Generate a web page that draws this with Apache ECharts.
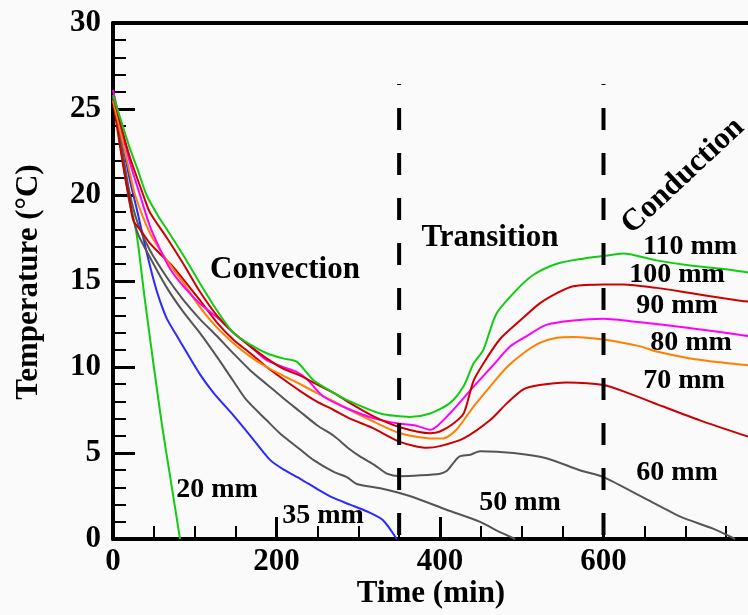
<!DOCTYPE html>
<html>
<head>
<meta charset="utf-8">
<script src="https://cdn.jsdelivr.net/npm/echarts@6/dist/echarts.min.js"></script>
<style>
  html, body { margin: 0; padding: 0; background: #fafafa; }
  #chart { width: 748px; height: 615px; }
</style>
</head>
<body>
<div id="chart"></div>
<script>
// Temperature histories (time in min, temperature in °C) at each depth
const d20 = [[0,25.8],[10,22.8],[20,19.8],[29,17.7],[39,13.9],[50,10.0],[60,6.6],[70,3.6],[82,0]];
const d35 = [[0,25.8],[10,23.5],[20,21.0],[30,19.0],[40,16.9],[50,15.0],[57,13.9],[66,12.8],[82,11.5],[106,9.6],[123,8.5],[147,7.2],[168,6.0],[192,4.6],[210,4.0],[229,3.5],[250,2.9],[269,2.4],[290,2.0],[311,1.6],[330,1.1],[347,0]];
const d50 = [[0,25.8],[10,22.6],[20,19.6],[30,17.8],[45,16.4],[66,14.6],[86,13.2],[106,12.0],[127,10.6],[147,9.2],[163,8.1],[188,6.9],[204,6.15],[229,5.2],[245,4.6],[270,3.9],[286,3.6],[298,3.2],[327,2.95],[363,2.5],[408,1.7],[449,1.0],[469,0.5],[492,0]];
const d60 = [[0,25.8],[10,23.0],[20,20.2],[30,18.4],[45,16.8],[66,15.2],[86,13.9],[106,12.8],[127,11.8],[147,10.8],[168,9.8],[188,9.0],[208,8.2],[229,7.4],[250,6.6],[270,6.0],[290,5.2],[302,4.8],[320,4.3],[335,3.8],[351,3.65],[376,3.7],[400,3.8],[408,3.95],[416,4.4],[424,4.8],[437,4.9],[449,5.1],[490,5.0],[530,4.7],[571,4.0],[600,3.6],[653,2.3],[694,1.3],[734,0.6],[761,0]];
const d70 = [[0,25.5],[8,23.0],[15,21.0],[20,19.8],[25,18.5],[33,18.0],[45,17.2],[57,16.6],[70,16.0],[86,15.1],[106,13.9],[127,12.6],[147,11.6],[168,10.8],[188,10.0],[208,9.3],[229,8.6],[249,8.0],[270,7.5],[290,7.0],[318,6.45],[351,5.65],[384,5.3],[400,5.4],[429,5.85],[461,6.9],[482,7.9],[502,8.7],[522,8.95],[555,9.1],[600,8.95],[632,8.45],[673,7.7],[718,6.9],[777,5.95],[800,5.6]];
const d80 = [[0,25.5],[10,23.5],[20,21.4],[27,20.0],[45,17.8],[66,16.2],[86,14.9],[106,13.5],[127,12.3],[147,11.4],[168,10.6],[188,10.0],[208,9.5],[229,9.0],[249,8.5],[270,8.0],[290,7.5],[320,6.8],[351,6.15],[388,5.85],[404,5.85],[420,6.35],[441,7.7],[461,8.85],[482,10.0],[502,10.8],[522,11.4],[543,11.7],[563,11.75],[600,11.6],[645,11.2],[665,10.9],[706,10.5],[747,10.25],[777,10.1],[800,10.0]];
const d90 = [[0,26.1],[10,24.0],[20,22.0],[33,20.0],[45,18.2],[57,16.9],[70,15.7],[86,14.7],[106,13.7],[127,12.9],[147,12.0],[168,11.2],[188,10.4],[208,10.0],[225,9.7],[237,9.3],[257,8.3],[286,7.6],[320,7.0],[351,6.7],[370,6.6],[388,6.35],[412,7.3],[440,8.8],[465,10.1],[486,11.2],[506,11.8],[530,12.45],[563,12.7],[600,12.8],[645,12.6],[700,12.3],[747,12.0],[777,11.8],[800,11.7]];
const d100 = [[0,25.8],[10,24.0],[20,22.3],[37,20.0],[45,19.0],[66,17.5],[86,16.0],[106,14.4],[127,13.0],[147,12.0],[168,11.2],[188,10.5],[208,9.9],[229,9.5],[249,9.0],[270,8.5],[290,7.9],[320,7.1],[351,6.5],[388,6.15],[400,6.25],[416,6.7],[429,7.3],[441,9.2],[453,10.2],[473,11.6],[498,12.7],[522,13.7],[543,14.3],[563,14.7],[600,14.8],[624,14.8],[665,14.6],[706,14.3],[747,14.0],[777,13.8],[800,13.7]];
const d110 = [[0,25.8],[10,24.3],[20,22.8],[30,21.5],[41,20.0],[55,18.8],[66,18.0],[86,16.5],[106,14.9],[127,13.3],[147,12.0],[168,11.3],[188,10.8],[208,10.5],[225,10.3],[245,9.25],[270,8.5],[290,8.0],[327,7.3],[363,7.1],[388,7.3],[412,7.9],[429,8.9],[441,10.2],[453,11.0],[469,13.1],[494,14.5],[514,15.35],[543,16.0],[575,16.3],[600,16.45],[624,16.6],[665,16.2],[706,15.9],[747,15.7],[777,15.5],[800,15.4]];

// Regime boundaries (min) and the height of the dashed markers (°C)
const boundaries = [350, 600];
const boundaryTop = 26.45;

// Axis ranges
const xRange = [0, 800];
const yRange = [0, 30];

const FONT = '"Liberation Serif", "Times New Roman", serif';

const curves = [
  { name: '20 mm',  data: d20,  color: '#11cc11' },
  { name: '35 mm',  data: d35,  color: '#2a2aff' },
  { name: '50 mm',  data: d50,  color: '#555555' },
  { name: '60 mm',  data: d60,  color: '#555555' },
  { name: '70 mm',  data: d70,  color: '#cc0000' },
  { name: '80 mm',  data: d80,  color: '#ff8000' },
  { name: '90 mm',  data: d90,  color: '#ff00ff' },
  { name: '100 mm', data: d100, color: '#cc0000' },
  { name: '110 mm', data: d110, color: '#11cc11' }
];

const series = curves.map(c => ({
  name: c.name,
  type: 'line',
  data: c.data,
  showSymbol: false,
  smooth: 0.25,
  lineStyle: { color: c.color, width: 2 },
  z: 3
}));

boundaries.forEach(b => {
  series.push({
    type: 'line',
    data: [[b, boundaryTop], [b, 0]],
    showSymbol: false,
    lineStyle: { color: '#000', width: 4, type: [22, 23], dashOffset: 21 },
    z: 4
  });
});

function label(text, x, y, size, rot) {
  return {
    type: 'text',
    x: x, y: y,
    rotation: rot || 0,
    z: 10,
    style: {
      text: text,
      x: 0, y: 0,
      fill: '#000',
      font: 'bold ' + size + 'px ' + FONT,
      textAlign: 'center', align: 'center',
      textVerticalAlign: 'middle', verticalAlign: 'middle'
    }
  };
}

const chart = echarts.init(document.getElementById('chart'), null, { renderer: 'canvas' });
chart.setOption({
  backgroundColor: '#fafafa',
  animation: false,
  grid: { left: 113, top: 23, right: -19, bottom: 76, containLabel: false, outerBoundsMode: 'none' },
  xAxis: [{
    type: 'value',
    min: xRange[0], max: xRange[1], interval: 200,
    axisLine: { lineStyle: { color: '#000', width: 4 } },
    axisTick: { inside: true, length: 22, lineStyle: { color: '#000', width: 3 } },
    minorTick: { show: true, splitNumber: 4, length: 13, lineStyle: { color: '#000', width: 2 } },
    splitLine: { show: false },
    axisLabel: { color: '#000', fontFamily: FONT, fontWeight: 'bold', fontSize: 31, margin: 7, showMaxLabel: false }
  }, {
    type: 'value', position: 'top',
    min: xRange[0], max: xRange[1],
    axisLine: { show: true, lineStyle: { color: '#000', width: 4 } },
    axisTick: { show: false }, axisLabel: { show: false }, splitLine: { show: false }
  }],
  yAxis: {
    type: 'value',
    min: yRange[0], max: yRange[1], interval: 5,
    axisLine: { show: true, lineStyle: { color: '#000', width: 4 } },
    axisTick: { inside: true, length: 22, lineStyle: { color: '#000', width: 3 } },
    minorTick: { show: true, splitNumber: 5, length: 13, lineStyle: { color: '#000', width: 2 } },
    splitLine: { show: false },
    axisLabel: { color: '#000', fontFamily: FONT, fontWeight: 'bold', fontSize: 31, margin: 12 }
  },
  series: series,
  graphic: [
    label('Time (min)', 431, 594, 31),
    label('Temperature (°C)', 29, 282, 31, Math.PI / 2),
    label('Convection', 285, 270, 31),
    label('Transition', 490, 238, 31),
    label('Conduction', 683, 176, 31, 43 * Math.PI / 180),
    label('110 mm', 690, 247, 28),
    label('100 mm', 677, 275, 28),
    label('90 mm', 677, 306, 28),
    label('80 mm', 691, 343, 28),
    label('70 mm', 684, 381, 28),
    label('60 mm', 677, 473, 28),
    label('50 mm', 520, 503, 28),
    label('35 mm', 323, 516, 28),
    label('20 mm', 217, 490, 28)
  ]
});
</script>
</body>
</html>
